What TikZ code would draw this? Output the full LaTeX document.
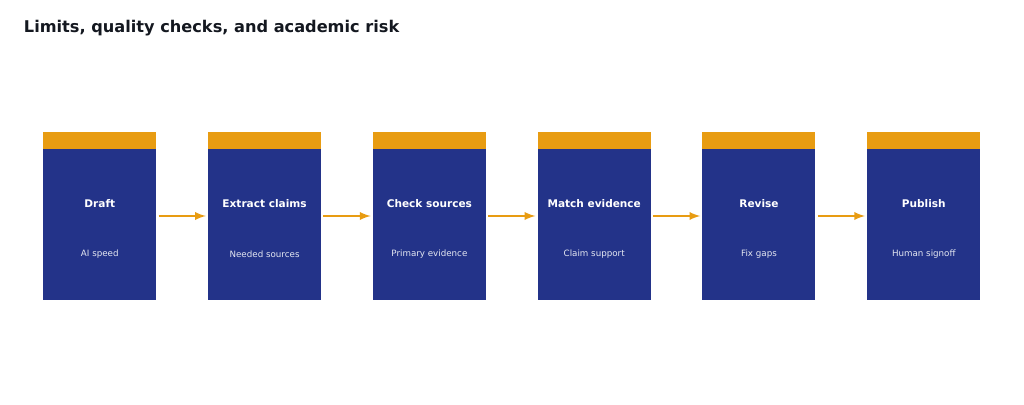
\documentclass[tikz,border=0pt]{standalone}
\usepackage{fontspec}
\setmainfont{DejaVu Sans}
\usetikzlibrary{positioning}
\definecolor{stageblue}{HTML}{233389}
\definecolor{stageorange}{HTML}{E89C12}
\definecolor{titleink}{HTML}{141820}

\begin{document}
\begin{tikzpicture}[x = 0.025cm, y = -0.025cm,
  stagebox/.style = {fill = stageblue, draw = none, minimum width = 113*0.025cm,
    minimum height = 151*0.025cm, inner sep = 0, anchor = north west},
  stagecap/.style = {fill = stageorange, draw = none, minimum width = 113*0.025cm,
    minimum height = 17*0.025cm, inner sep = 0, anchor = south},
  flow/.style = {-latex, stageorange, line width = 1.6pt}]
  \useasboundingbox (0, 0) rectangle (1024, 405);

  \node[anchor = west, font = \bfseries\fontsize{11.5}{14}\selectfont, text = titleink]
    (title) at (19, 28) {Limits, quality checks, and academic risk};

  \foreach \i/\head/\sub in {0/Draft/AI speed, 1/Extract claims/Needed sources,
    2/Check sources/Primary evidence, 3/Match evidence/Claim support,
    4/Revise/Fix gaps, 5/Publish/Human signoff} {
    \node[stagebox] (s\i) at ({43 + 164.8*\i}, 149) {};
    \node[stagecap] (c\i) at (s\i.north) {};
    \node[font = \bfseries\fontsize{7.5}{9}\selectfont, text = white]
      (h\i) at ([yshift = -55*0.025cm] s\i.north) {\head};
    \node[font = \fontsize{6.2}{8}\selectfont, text = white!88!stageblue]
      (t\i) at ([yshift = -105*0.025cm] s\i.north) {\sub};
  }

  \foreach \i [count = \j from 1] in {0, ..., 4} {
    \draw[flow] ([xshift = 2*0.025cm, yshift = -67*0.025cm] s\i.north east)
      -- ([xshift = -2*0.025cm, yshift = -67*0.025cm] s\j.north west);
  }
\end{tikzpicture}
\end{document}
